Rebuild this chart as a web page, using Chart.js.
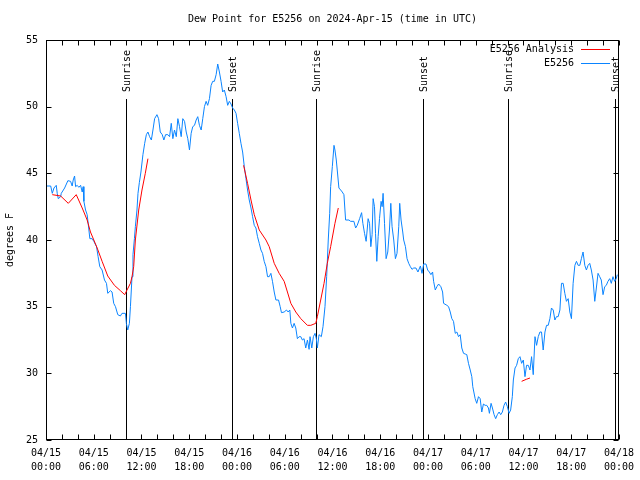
<!DOCTYPE html>
<html><head><meta charset="utf-8">
<script src="https://cdn.jsdelivr.net/npm/chart.js@4.4.1/dist/chart.umd.min.js"></script>
<style>html,body{margin:0;padding:0;background:#fff}#wrap{width:640px;height:480px}</style>
</head><body><div id="wrap"><canvas id="c" width="640" height="480"></canvas></div>
<script>
const titleText = 'Dew Point for E5256 on 2024-Apr-15 (time in UTC)';
const yAxisTitle = 'degrees F';
const seriesNames = ['E5256 Analysis', 'E5256'];
const xTickDates = ['04/15','04/15','04/15','04/15','04/16','04/16','04/16','04/16','04/17','04/17','04/17','04/17','04/18'];
const xTickTimes = ['00:00','06:00','12:00','18:00','00:00','06:00','12:00','18:00','00:00','06:00','12:00','18:00','00:00'];
const yTickValues = [25,30,35,40,45,50,55];

// hours since 04/15 00:00 UTC
const blueHours = [0.1,0.59,0.79,1.0,1.29,1.41,1.54,1.84,1.92,2.34,
2.75,3.09,3.29,3.42,3.59,3.72,3.92,4.13,4.35,4.55,
4.67,4.76,4.97,5.17,5.3,5.51,5.8,6.01,6.35,6.55,
6.76,7.05,7.35,7.6,7.76,8.1,8.3,8.51,8.73,9.02,
9.35,9.55,9.98,10.1,10.27,10.48,10.61,10.81,10.93,11.11,
11.23,11.43,11.56,11.73,11.93,12.18,12.4,12.61,12.81,13.02,
13.24,13.44,13.65,13.94,14.15,14.36,14.61,14.81,15.03,15.31,
15.53,15.74,15.94,16.15,16.37,16.57,16.78,16.99,17.19,17.41,
17.62,17.82,18.03,18.24,18.44,18.66,18.87,19.07,19.28,19.5,
19.7,19.91,20.12,20.32,20.54,20.75,20.95,21.16,21.38,21.58,
21.79,22.0,22.2,22.41,22.63,22.83,23.04,23.25,23.45,23.67,
23.88,24.08,24.29,24.5,24.71,24.92,25.13,25.33,25.54,25.76,
25.96,26.17,26.38,26.58,26.8,27.01,27.21,27.42,27.64,27.84,
28.05,28.26,28.46,28.68,28.89,29.22,29.43,29.59,29.93,30.22,
30.43,30.64,30.77,30.97,31.18,31.39,31.59,31.81,32.02,32.22,
32.43,32.64,32.85,33.06,33.18,33.4,33.6,33.81,33.97,34.1,
34.31,34.6,34.81,35.06,35.27,35.47,35.65,35.77,35.98,36.19,
36.31,36.48,36.6,36.81,37.03,37.23,37.44,37.65,38.07,38.28,
38.69,38.91,39.11,39.41,39.66,39.82,40.03,40.23,40.36,40.48,
40.66,40.82,40.98,41.11,41.28,41.41,41.57,41.74,41.91,42.11,
42.24,42.36,42.54,42.74,42.95,43.16,43.33,43.49,43.7,43.91,
44.11,44.33,44.45,44.62,44.83,44.95,45.17,45.37,45.58,45.79,
45.99,46.21,46.49,46.74,47.05,47.25,47.46,47.75,47.96,48.17,
48.37,48.58,48.71,48.92,49.12,49.34,49.62,49.84,49.96,50.38,
50.59,50.8,51.0,51.21,51.43,51.63,51.84,52.05,52.25,52.47,
52.68,52.88,53.09,53.31,53.51,53.63,53.93,54.13,54.35,54.56,
54.76,54.97,55.18,55.39,55.6,55.72,55.93,56.1,56.31,56.51,
56.72,56.94,57.14,57.35,57.56,57.76,57.98,58.19,58.39,58.6,
58.73,58.94,59.14,59.35,59.56,59.77,59.98,60.19,60.39,60.61,
60.82,61.02,61.23,61.45,61.65,61.86,62.07,62.27,62.48,62.7,
62.9,63.11,63.32,63.52,63.74,63.95,64.15,64.36,64.58,64.78,
64.99,65.2,65.4,65.62,65.83,66.03,66.24,66.46,66.66,66.87,
67.08,67.28,67.49,67.71,67.91,68.12,68.33,68.53,68.75,68.96,
69.16,69.37,69.58,69.78,70.0,70.21,70.41,70.62,70.84,71.04,
71.25,71.46,71.66,71.79];
const blueValues = [44.05,44.05,43.5,43.9,44.1,43.5,43.1,43.25,43.5,43.9,
44.45,44.4,44.05,44.5,44.8,44.0,44.1,43.95,44.1,43.6,
44.0,42.9,42.25,41.9,41.25,40.1,40.1,39.9,39.5,38.75,
38.0,37.75,37.0,36.75,36.0,36.2,36.1,35.25,35.0,34.4,
34.3,34.5,34.5,33.75,33.25,33.75,35.0,37.25,38.9,40.1,
41.0,42.25,43.5,44.3,45.1,46.4,47.25,47.9,48.1,47.75,
47.5,48.25,49.1,49.4,49.1,48.1,47.9,47.5,47.9,47.9,
47.75,48.75,47.6,48.25,47.75,49.1,48.5,47.75,49.1,48.9,
48.1,47.6,46.75,48.0,48.5,48.6,49.0,49.25,48.6,48.25,
49.1,50.0,50.4,50.1,50.6,51.6,51.9,51.9,52.4,53.2,
52.6,51.9,51.1,51.25,50.75,50.1,50.4,50.2,49.9,49.75,
49.5,48.75,48.0,47.25,46.6,45.5,44.6,43.75,43.0,42.4,
41.75,41.1,40.9,40.25,39.75,39.25,39.0,38.4,38.0,37.25,
37.25,37.5,36.9,36.1,35.5,35.5,35.0,34.55,34.6,34.75,
34.6,34.75,33.75,33.4,33.75,33.4,32.6,32.75,32.75,32.5,
32.6,31.9,32.5,31.8,32.75,31.9,32.75,33.0,32.6,31.9,
32.9,32.75,33.5,35.0,37.25,40.0,42.0,44.0,45.5,47.1,
46.75,46.0,45.25,43.9,43.75,43.6,43.4,41.5,41.5,41.4,
41.4,40.9,41.1,41.6,42.05,41.25,40.5,39.9,40.75,41.6,
41.25,39.5,40.4,43.1,42.5,40.5,38.4,40.25,41.6,42.9,
42.5,43.5,41.25,38.6,39.1,40.75,42.75,41.0,40.0,38.6,
39.0,41.0,42.75,41.5,40.6,40.0,39.5,38.6,38.25,38.0,
37.8,37.9,37.9,37.6,38.05,37.5,38.2,38.2,37.75,37.6,
37.4,37.6,36.9,36.25,36.5,36.7,36.5,36.1,35.25,35.1,
35.0,34.6,34.1,33.9,33.0,33.1,32.75,32.9,31.9,31.5,
31.45,31.4,30.75,30.25,29.75,29.0,28.1,27.75,28.25,28.1,
27.1,27.7,27.6,27.6,27.4,27.0,27.75,27.4,26.9,26.6,
26.9,27.1,26.9,27.1,27.6,27.85,27.5,27.0,27.25,28.25,
29.5,30.4,30.6,31.1,31.25,30.75,31.0,29.75,30.6,30.6,
30.25,31.25,29.9,32.75,32.1,32.75,33.1,33.1,31.75,33.1,
33.6,33.6,34.1,34.9,34.75,34.0,34.25,34.25,34.75,36.75,
36.75,36.0,35.4,35.6,34.6,34.1,36.75,38.1,38.4,38.1,
38.1,38.6,39.1,38.1,37.75,38.1,38.25,37.75,37.0,35.4,
36.4,37.5,37.25,37.0,35.9,36.5,36.6,36.9,37.1,36.75,
37.25,36.9,37.1,37.4];

const redHours = [0.79,1.84,2.8,3.8,4.55,5.17,5.59,6.43,7.05,7.76,8.6,9.35,9.89,10.18,10.61,10.81,11.02,11.23,11.65,12.06,12.48,12.81,
18,
24.83,25.33,25.76,26.17,26.8,27.64,28.05,28.68,29.3,29.93,30.34,30.77,31.39,32.02,32.85,33.27,33.9,34.1,34.52,34.94,35.35,35.77,36.31,36.73,
48,
59.77,60.35,60.82];
const redValues = [43.4,43.3,42.75,43.4,42.4,41.5,40.6,39.4,38.4,37.3,36.6,36.2,35.9,36.25,36.75,37.25,38.0,40.0,42.25,43.75,45.0,46.1,
null,
45.6,44.25,43.0,41.9,40.75,40.0,39.5,38.25,37.5,36.9,36.1,35.25,34.6,34.1,33.6,33.6,33.75,34.25,35.5,36.75,38.25,39.5,41.25,42.4,
null,
29.4,29.55,29.65];

const sunEventHours = [10.06, 23.33, 33.98, 47.37, 58.02, 71.46];
const sunEventLabels = ['Sunrise','Sunset','Sunrise','Sunset','Sunrise','Sunset'];
const sunLineTopValue = 50.55;

const FONT = "'DejaVu Sans Mono', 'Liberation Mono', monospace";
const RED = '#ff0000';
const BLUE = '#0a84ff';

const decor = {
  id: 'decor',
  beforeDatasetsDraw(chart) {
    const {ctx, chartArea: a, scales: {x, y}} = chart;
    ctx.save();
    ctx.strokeStyle = '#000';
    ctx.lineWidth = 1;
    ctx.fillStyle = '#000';
    ctx.font = '10px ' + FONT;
    const top = Math.round(y.getPixelForValue(sunLineTopValue));
    sunEventHours.forEach((h, i) => {
      const px = Math.round(x.getPixelForValue(h)) + 0.5;
      ctx.beginPath();
      ctx.moveTo(px, top);
      ctx.lineTo(px, a.bottom);
      ctx.stroke();
      ctx.save();
      ctx.translate(px + 1, top - 7);
      ctx.rotate(-Math.PI / 2);
      ctx.textAlign = 'left';
      ctx.textBaseline = 'middle';
      ctx.fillText(sunEventLabels[i], 0, 0);
      ctx.restore();
    });
    ctx.restore();
  },
  afterDraw(chart) {
    const {ctx, chartArea: a, scales: {x, y}} = chart;
    ctx.save();
    ctx.strokeStyle = '#000';
    ctx.lineWidth = 1;
    const L = Math.round(a.left) + 0.5, R = Math.round(a.right) - 0.5;
    const T = Math.round(a.top) + 0.5, B = Math.round(a.bottom) - 0.5;
    ctx.strokeRect(L, T, R - L, B - T);
    ctx.beginPath();
    x.ticks.forEach(t => {
      const px = Math.round(x.getPixelForValue(t.value)) + 0.5;
      ctx.moveTo(px, B); ctx.lineTo(px, B - 5);
      ctx.moveTo(px, T); ctx.lineTo(px, T + 5);
    });
    y.ticks.forEach(t => {
      const py = Math.round(y.getPixelForValue(t.value)) + 0.5;
      ctx.moveTo(L, py); ctx.lineTo(L + 5, py);
      ctx.moveTo(R, py); ctx.lineTo(R - 5, py);
    });
    ctx.stroke();
    // legend (text then sample line, gnuplot style)
    ctx.font = '10px ' + FONT;
    ctx.fillStyle = '#000';
    ctx.textAlign = 'right';
    ctx.textBaseline = 'middle';
    const colors = [RED, BLUE];
    seriesNames.forEach((n, i) => {
      const ly = 49 + i * 14;
      ctx.fillText(n, 574, ly);
      ctx.strokeStyle = colors[i];
      ctx.beginPath();
      ctx.moveTo(581, ly + 0.5);
      ctx.lineTo(610, ly + 0.5);
      ctx.stroke();
    });
    ctx.restore();
  }
};

new Chart(document.getElementById('c'), {
  type: 'line',
  data: {
    datasets: [
      { label: seriesNames[0], data: redHours.map((h, i) => ({x: h, y: redValues[i]})),
        borderColor: RED, borderWidth: 1, pointRadius: 0, tension: 0, spanGaps: false },
      { label: seriesNames[1], data: blueHours.map((h, i) => ({x: h, y: blueValues[i]})),
        borderColor: BLUE, borderWidth: 1, pointRadius: 0, tension: 0 }
    ]
  },
  options: {
    responsive: false,
    animation: false,
    layout: { padding: { left: 0, right: 19, top: 0, bottom: 0 } },
    plugins: {
      legend: { display: false },
      tooltip: { enabled: false },
      title: { display: true, text: titleText, fullSize: false, color: '#000',
        font: { family: FONT, size: 10, weight: 'normal', lineHeight: 1.2 },
        padding: { top: 13, bottom: 15 } }
    },
    scales: {
      x: {
        type: 'linear', min: 0, max: 72,
        afterBuildTicks: s => { const t = []; for (let h = 0; h <= 72; h += 2) t.push({value: h}); s.ticks = t; },
        afterFit: s => { s.height = 40; },
        grid: { display: false, drawTicks: false },
        border: { display: false },
        ticks: {
          autoSkip: false, maxRotation: 0, minRotation: 0, padding: 6, color: '#000',
          font: { family: FONT, size: 10, lineHeight: 1.45 },
          callback: v => (v % 6 === 0) ? [xTickDates[v / 6], xTickTimes[v / 6]] : ''
        }
      },
      y: {
        type: 'linear', min: 25, max: 55,
        afterBuildTicks: s => { s.ticks = yTickValues.map(v => ({value: v})); },
        afterFit: s => { s.width = 46; },
        grid: { display: false, drawTicks: false },
        border: { display: false },
        title: { display: true, text: yAxisTitle, color: '#000', padding: { top: 4, bottom: 0 },
          font: { family: FONT, size: 10, lineHeight: 1.2 } },
        ticks: { padding: 8, color: '#000', font: { family: FONT, size: 10 } }
      }
    }
  },
  plugins: [decor]
});
</script>
</body></html>
